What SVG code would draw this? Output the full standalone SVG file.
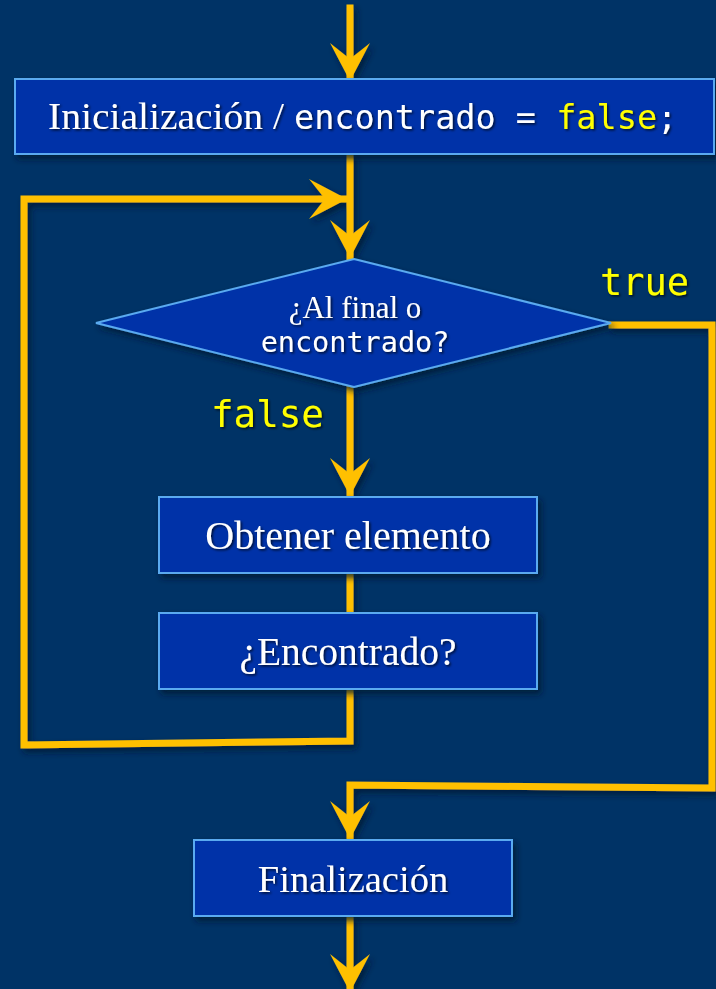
<svg xmlns="http://www.w3.org/2000/svg" width="716" height="989" viewBox="0 0 716 989">
<style>
.bg{fill:#003366}
.box{fill:#0033A8;stroke:#5AAAF0;stroke-width:2}
.ln{fill:none;stroke:#FFC000;stroke-width:7;stroke-linejoin:miter;stroke-linecap:square}
.serif{font-family:"Liberation Serif","Times New Roman",serif;fill:#FFFFFF}
.mono{font-family:"DejaVu Sans Mono","Liberation Mono",monospace;fill:#FFFFFF}
.yel{fill:#FFFF00}
</style>
<defs>
<marker id="ah" markerUnits="userSpaceOnUse" markerWidth="44" markerHeight="44" viewBox="-40 -22 44 44" refX="0" refY="0" orient="auto">
<path d="M0,0 L-38,-20 L-22,0 L-38,20 Z" fill="#FFC000"/>
</marker>
<filter id="sh" x="-10%" y="-10%" width="130%" height="140%">
<feDropShadow dx="3" dy="4" stdDeviation="3" flood-color="#001a33" flood-opacity="0.8"/>
</filter>
<filter id="ts" x="-5%" y="-20%" width="110%" height="150%">
<feDropShadow dx="1.5" dy="1.5" stdDeviation="1" flood-color="#000000" flood-opacity="0.7"/>
</filter>
</defs>
<rect class="bg" x="0" y="0" width="716" height="989"/>
<g id="connectors" filter="url(#sh)">
<path class="ln" d="M350,8 L350,81" marker-end="url(#ah)"/>
<path class="ln" d="M350,155 L350,258" marker-end="url(#ah)"/>
<path class="ln" d="M350,690 L350,741 L24,745 L24,199 L347,199" marker-end="url(#ah)"/>
<path class="ln" d="M350,388 L350,496" marker-end="url(#ah)"/>
<path class="ln" d="M350,574 L350,612"/>
<path class="ln" d="M612,325 L712,325 L712,788 L350,785 L350,839" marker-end="url(#ah)"/>
<path class="ln" d="M350,917 L350,992" marker-end="url(#ah)"/>
</g>
<g id="n-init">
<rect class="box" filter="url(#sh)" x="15" y="79" width="699" height="75"/>
<g filter="url(#ts)">
<text class="serif" x="48" y="129" font-size="38" textLength="236" lengthAdjust="spacingAndGlyphs">Inicialización /</text>
<text class="mono" x="294" y="129" font-size="33.5">encontrado = <tspan class="yel">false</tspan>;</text>
</g>
</g>
<g id="n-cond">
<polygon class="box" filter="url(#sh)" points="354,259 611,323 354,387 96,323"/>
<g filter="url(#ts)">
<text class="serif" x="355" y="318" font-size="31" text-anchor="middle">¿Al final o</text>
<text class="mono" x="355" y="352" font-size="28.5" text-anchor="middle">encontrado?</text>
</g>
</g>
<g id="lbl-true"><text class="mono yel" x="600" y="295" font-size="37" filter="url(#ts)">true</text></g>
<g id="lbl-false"><text class="mono yel" x="211" y="427" font-size="37.5" filter="url(#ts)">false</text></g>
<g id="n-obtener">
<rect class="box" filter="url(#sh)" x="159" y="497" width="378" height="76"/>
<text class="serif" x="348" y="549" font-size="40" text-anchor="middle" filter="url(#ts)">Obtener elemento</text>
</g>
<g id="n-encontrado">
<rect class="box" filter="url(#sh)" x="159" y="613" width="378" height="76"/>
<text class="serif" x="348" y="665" font-size="39.5" text-anchor="middle" filter="url(#ts)">¿Encontrado?</text>
</g>
<g id="n-fin">
<rect class="box" filter="url(#sh)" x="194" y="840" width="318" height="76"/>
<text class="serif" x="353" y="892" font-size="38.5" text-anchor="middle" filter="url(#ts)">Finalización</text>
</g>
</svg>
